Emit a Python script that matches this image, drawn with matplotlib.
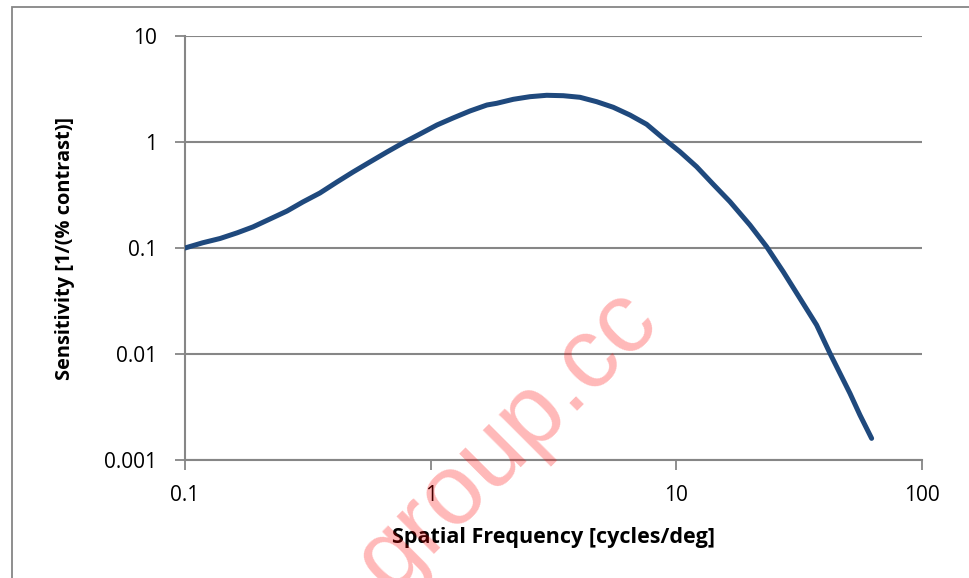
import matplotlib
matplotlib.use("Agg")
import matplotlib.pyplot as plt
from matplotlib.patches import Rectangle
from matplotlib.ticker import FixedLocator, FixedFormatter, NullLocator

plt.rcParams['font.family'] = ['Open Sans', 'DejaVu Sans']

# contrast sensitivity curve
freq = [0.100, 0.118, 0.139, 0.163, 0.189, 0.222, 0.260, 0.302, 0.354,
        0.416, 0.483, 0.566, 0.664, 0.771, 0.905, 1.061, 1.233, 1.445,
        1.695, 1.856, 2.169, 2.536, 2.966, 3.465, 4.053, 4.739, 5.537,
        6.475, 7.570, 8.846, 10.34, 12.09, 14.13, 16.53, 19.93, 23.31,
        27.24, 31.85, 37.24, 42.20, 46.33, 50.89, 55.88, 62.36]
sens = [0.100, 0.112, 0.123, 0.139, 0.158, 0.188, 0.223, 0.272, 0.330,
        0.420, 0.521, 0.648, 0.805, 0.979, 1.190, 1.447, 1.684, 1.961,
        2.234, 2.317, 2.528, 2.676, 2.758, 2.734, 2.641, 2.400, 2.126,
        1.797, 1.469, 1.084, 0.810, 0.585, 0.399, 0.2735, 0.1648, 0.1028,
        0.0597, 0.0335, 0.01877, 0.01015, 0.00658, 0.00426, 0.00266,
        0.00160]

x_ticks = [0.1, 1, 10, 100]
x_labels = ['0.1', '1', '10', '100']
y_ticks = [0.001, 0.01, 0.1, 1, 10]
y_labels = ['0.001', '0.01', '0.1', '1', '10']

grey = '#868686'

fig = plt.figure(figsize=(9.69, 5.78), dpi=100)

# chart area border (cut at right and bottom as in the picture)
fig.patches.append(Rectangle((12 / 969, -0.1), 1.2, 1 - 7 / 578 + 0.1,
                             transform=fig.transFigure, fill=False,
                             edgecolor=grey, linewidth=1.3))

ax = fig.add_axes([185 / 969, 1 - 460 / 578, 737 / 969, 424 / 578])
ax.set_xscale('log')
ax.set_yscale('log')
ax.set_xlim(0.1, 100)
ax.set_ylim(0.001, 10)

ax.plot(freq, sens, color='#1f497d', linewidth=3.6, solid_capstyle='round',
        solid_joinstyle='round', zorder=3)

ax.xaxis.set_major_locator(FixedLocator(x_ticks))
ax.xaxis.set_major_formatter(FixedFormatter(x_labels))
ax.yaxis.set_major_locator(FixedLocator(y_ticks))
ax.yaxis.set_major_formatter(FixedFormatter(y_labels))
ax.xaxis.set_minor_locator(NullLocator())
ax.yaxis.set_minor_locator(NullLocator())

ax.grid(axis='y', color=grey, linewidth=1.5)
for s in ('top', 'right'):
    ax.spines[s].set_visible(False)
for s in ('left', 'bottom'):
    ax.spines[s].set_color(grey)
    ax.spines[s].set_linewidth(1.5)
ax.tick_params(axis='both', color=grey, width=1.3, length=7,
               labelsize=15, pad=11)
ax.tick_params(axis='y', pad=13)

ax.set_xlabel('Spatial Frequency [cycles/deg]', fontsize=15.5,
              fontweight='bold')
ax.set_ylabel('Sensitivity [1/(% contrast)]', fontsize=14.4,
              fontweight='bold')
ax.xaxis.set_label_coords(0.5, -0.182)
ax.xaxis.label.set_va('center')
ax.yaxis.set_label_coords(-0.163, 0.5)
ax.yaxis.label.set_va('center')

# watermark
fig.text(390 / 969, 1 - 594 / 578, 'group.cc', rotation=45,
         rotation_mode='anchor', fontsize=72, color='red', alpha=0.28,
         ha='left', va='baseline', family='Liberation Sans')

fig.savefig('out.png', dpi=100)
